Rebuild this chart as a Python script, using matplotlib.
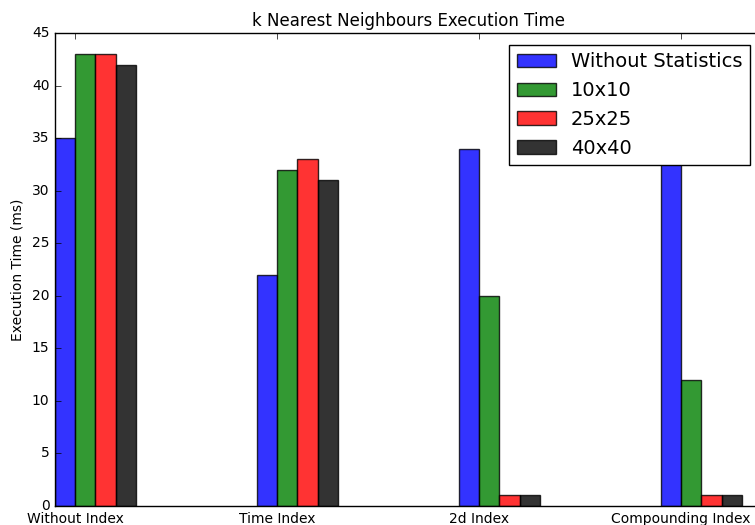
import matplotlib
matplotlib.use("Agg")
import matplotlib.pyplot as plt
import numpy as np

plt.style.use('classic')

indexes = ['Without Index', 'Time Index', '2d Index', 'Compounding Index']
without_stats = [35, 22, 34, 35]
stats_10 = [43, 32, 20, 12]
stats_25 = [43, 33, 1, 1]
stats_40 = [42, 31, 1, 1]

series = [('Without Statistics', without_stats, 'b'),
          ('10x10', stats_10, 'g'),
          ('25x25', stats_25, 'r'),
          ('40x40', stats_40, 'k')]

fig = plt.figure(figsize=(7.55, 5.25), dpi=100, facecolor='white')
ax = fig.add_axes([55 / 755, 19 / 525, 707 / 755, 473 / 525])

x = np.arange(len(indexes))
width = 0.1
for i, (label, vals, col) in enumerate(series):
    ax.bar(x + i * width, vals, width, color=col, alpha=0.8, label=label,
           align='edge')

ax.set_xlim(0, 3.5)
ax.set_ylim(0, 45)
ax.set_xticks(x + width)
ax.set_xticklabels(indexes)
ax.tick_params(labelsize=10)
ax.set_ylabel('Execution Time (ms)', fontsize=10)
ax.set_title('k Nearest Neighbours Execution Time', fontsize=12)
ax.legend(loc='upper right', fontsize=14, borderaxespad=0.6)

fig.savefig('out.png', dpi=100, facecolor='white')
